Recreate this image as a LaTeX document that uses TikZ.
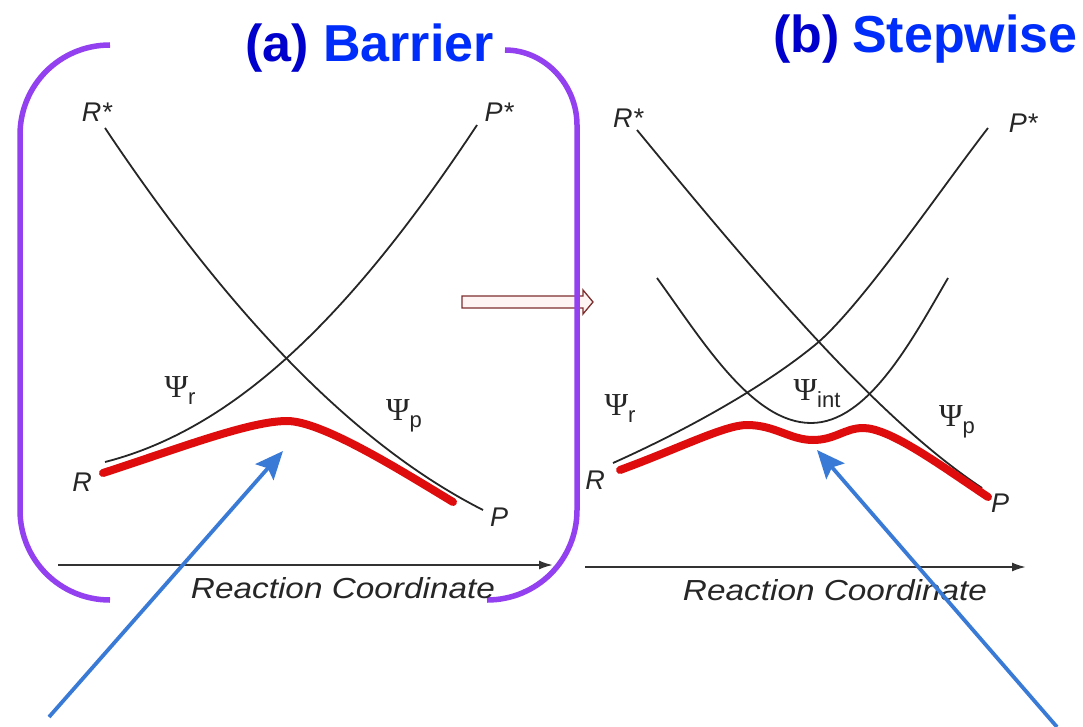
\documentclass[tikz,border=0pt]{standalone}
\usepackage{fontspec}
\setmainfont{Liberation Sans}
\newfontfamily\psifont{Liberation Serif}
\usetikzlibrary{arrows.meta}
\definecolor{bracketpurple}{RGB}{146,64,240}
\definecolor{titleblue}{RGB}{0,45,250}
\definecolor{titledark}{RGB}{0,0,205}
\definecolor{curvered}{RGB}{222,12,12}
\definecolor{pointblue}{RGB}{58,122,215}
\definecolor{hollowedge}{RGB}{125,45,45}
\definecolor{hollowfill}{RGB}{255,244,244}
\begin{document}
\begin{tikzpicture}[x=1pt,y=-1pt,
  bracket/.style={draw=bracketpurple,line width=5.5pt},
  pes/.style={draw=black!85,line width=1.8pt},
  redpath/.style={draw=curvered,line width=8pt,line cap=round,line join=round},
  axisline/.style={draw=black!80,line width=2pt,-{Latex[length=14pt,width=9pt]}},
  pointer/.style={draw=pointblue,line width=3.8pt,-{Stealth[length=28pt,width=24pt,inset=5pt]}},
  lab/.style={font=\fontsize{27}{27}\selectfont\itshape,inner sep=0pt,text=black!85},
  psi/.style={inner sep=0pt,font=\fontsize{32}{32}\selectfont,text=black!85},
  axlab/.style={font=\fontsize{29}{29}\selectfont\itshape,inner sep=0pt,text=black!85},
  title/.style={font=\fontsize{52}{52}\selectfont\bfseries,inner sep=0pt,anchor=base west}
]
\useasboundingbox (0,0) rectangle (1083,727);

% titles
\node[title,text=titledark] (ta) at (245,62) {(a)};
\node[title,text=titleblue] (tb) at (323,62) {Barrier};
\node[title,text=titledark] (tc) at (773,53) {(b)};
\node[title,text=titleblue] (td) at (852,53) {Stepwise};

% hollow arrow (under the bracket)
\draw[draw=hollowedge,fill=hollowfill,line width=1.3pt]
  (462,296) -- (583,296) -- (583,290) -- (593,302) -- (583,314) -- (583,308) -- (462,308) -- cycle;

% purple brackets
\draw[bracket] (110,45) .. controls (60,45) and (20,85) .. (20,135) -- (20,510)
  .. controls (20,560) and (60,600) .. (110,600);
\draw[bracket] (505,50) .. controls (545,50) and (577,85) .. (577,125) -- (577,510)
  .. controls (577,560) and (537,600) .. (487,600);

% ---------- panel (a) ----------
\draw[pes] (105,128) .. controls (220,300) and (345,440) .. (483,510);
\draw[pes] (105,462) .. controls (230,430) and (345,325) .. (477,125);
\draw[redpath] (103,473) .. controls (180,448) and (250,421) .. (287,421)
  .. controls (322,421) and (400,470) .. (453,502);

\node[lab] (rsa) at (97,112) {R*};
\node[lab] (psa) at (499,112) {P*};
\node[lab] (ra) at (82,482) {R};
\node[lab] (pa) at (499,517) {P};
\node[psi] (psira) at (180,391) {{\psifont Ψ}\raisebox{-7pt}{\fontsize{22}{22}\selectfont r}};
\node[psi] (psipa) at (404,416) {{\psifont Ψ}\raisebox{-7pt}{\fontsize{22}{22}\selectfont p}};

\coordinate (axa0) at (58,565);
\coordinate (axa1) at (553,565);
\draw[axisline] (axa0) -- (axa1);
\node[axlab] (rca) at (343,588) {\scalebox{1.15}[1]{Reaction Coordinate}};

% ---------- panel (b) ----------
\draw[pes] (637,130) .. controls (772,294) and (880,420) .. (982,488);
\draw[pes] (613,463) .. controls (680,433) and (760,390) .. (815,345)
  .. controls (860,308) and (940,190) .. (988,128);
\draw[pes] (657,278) .. controls (702,340) and (752,423) .. (811,423)
  .. controls (868,423) and (912,340) .. (948,278);
\draw[redpath] (620,470) .. controls (680,448) and (725,425) .. (747,425)
  .. controls (775,425) and (790,440) .. (813,440)
  .. controls (835,440) and (845,428) .. (863,428)
  .. controls (890,428) and (940,465) .. (988,497);

\node[lab] (rsb) at (628,118) {R*};
\node[lab] (psb) at (1023,123) {P*};
\node[lab] (rb) at (595,480) {R};
\node[lab] (pb) at (1000,503) {P};
\node[psi] (psirb) at (620,409) {{\psifont Ψ}\raisebox{-7pt}{\fontsize{22}{22}\selectfont r}};
\node[psi] (psiib) at (817,394) {{\psifont Ψ}\raisebox{-7pt}{\fontsize{22}{22}\selectfont int}};
\node[psi] (psipb) at (957,422) {{\psifont Ψ}\raisebox{-7pt}{\fontsize{22}{22}\selectfont p}};

\coordinate (axb0) at (585,567);
\coordinate (axb1) at (1026,567);
\draw[axisline] (axb0) -- (axb1);
\node[axlab] (rcb) at (835,590) {\scalebox{1.15}[1]{Reaction Coordinate}};

% ---------- blue pointers ----------
\coordinate (pta0) at (49,717);
\coordinate (pta1) at (283,451);
\coordinate (ptb0) at (1057,727);
\coordinate (ptb1) at (817,450);
\draw[pointer] (pta0) -- (pta1);
\draw[pointer] (ptb0) -- (ptb1);
\end{tikzpicture}
\end{document}
